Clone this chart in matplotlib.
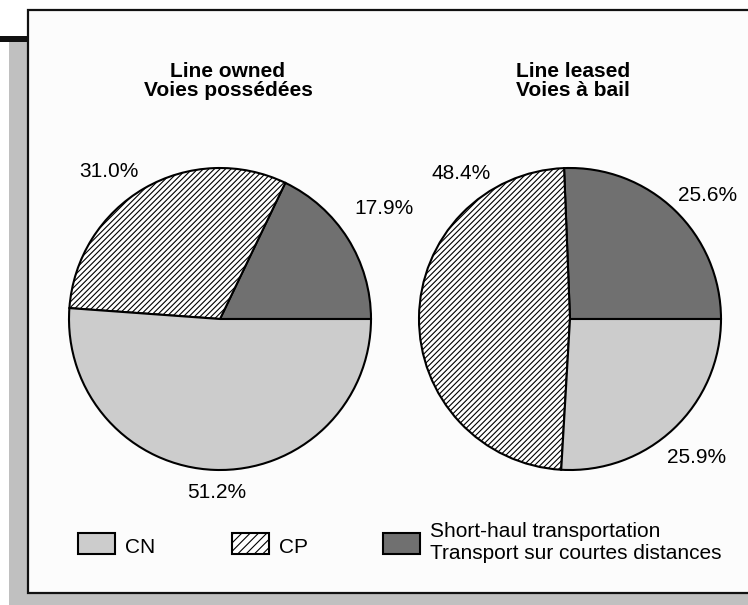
import matplotlib
matplotlib.use("Agg")
import matplotlib.pyplot as plt
from matplotlib.patches import Rectangle

plt.rcParams['font.family'] = ['Liberation Sans', 'DejaVu Sans']
plt.rcParams['hatch.linewidth'] = 0.8

# ---- data ----
categories = ["Short-haul transportation\nTransport sur courtes distances", "CP", "CN"]
owned_values = [17.9, 31.0, 51.2]
leased_values = [25.6, 48.4, 25.9]
titles = [["Line owned", "Voies possédées"], ["Line leased", "Voies à bail"]]
legend_labels = ["CN", "CP", ["Short-haul transportation", "Transport sur courtes distances"]]

# ---- styles ----
face_colors = ["#707070", "white", "#CCCCCC"]
hatches = [None, "//////", None]

W, H = 748, 605
fig = plt.figure(figsize=(W / 100, H / 100), dpi=100)
fig.patch.set_facecolor("white")

bg = fig.add_axes([0, 0, 1, 1])
bg.set_xlim(0, W)
bg.set_ylim(H, 0)
bg.axis("off")

# shadow and frame
bg.add_patch(Rectangle((9, 41), 19, 564, facecolor="#C0C0C0", edgecolor="none"))
bg.add_patch(Rectangle((9, 594), W, 11, facecolor="#C0C0C0", edgecolor="none"))
bg.add_patch(Rectangle((0, 36), 28, 5.5, facecolor="#111111", edgecolor="none"))
bg.add_patch(Rectangle((28, 10), W, 583, facecolor="#FCFCFC", edgecolor="#111111", linewidth=1.6))

R = 151
centers = [(220, 319), (570, 319)]
label_offsets = [
    [(1.083, 0.731), (-0.737, 0.977), (-0.02, -1.146)],
    [(0.910, 0.817), (-0.724, 0.963), (0.837, -0.920)],
]
title_x = [228, 573]

for k, values in enumerate([owned_values, leased_values]):
    cx, cy = centers[k]
    ax = fig.add_axes([(cx - R) / W, (H - cy - R) / H, 2 * R / W, 2 * R / H])
    wedges, _ = ax.pie(values, startangle=0, counterclock=True, colors=face_colors,
                       wedgeprops=dict(edgecolor="black", linewidth=1.5))
    for w, h in zip(wedges, hatches):
        if h:
            w.set_hatch(h)
    ax.set_xlim(-1.0, 1.0)
    ax.set_ylim(-1.0, 1.0)
    ax.set_aspect("auto")
    ax.patch.set_alpha(0)
    for v, (ox, oy) in zip(values, label_offsets[k]):
        ax.text(ox, oy, f"{v:.1f}%", ha="center", va="center", fontsize=15, clip_on=False)
    bg.text(title_x[k], 77, titles[k][0], ha="center", va="baseline", fontsize=15, fontweight="bold")
    bg.text(title_x[k], 95.5, titles[k][1], ha="center", va="baseline", fontsize=15, fontweight="bold")

# legend
box_x = [78, 232, 383]
text_x = [125, 279, 430]
legend_face = [face_colors[2], face_colors[1], face_colors[0]]
legend_hatch = [None, "////", None]
for i in range(3):
    bg.add_patch(Rectangle((box_x[i], 532.5), 37, 21.5, facecolor=legend_face[i],
                           edgecolor="black", linewidth=1.5, hatch=legend_hatch[i]))
bg.text(text_x[0], 553, legend_labels[0], ha="left", va="baseline", fontsize=15)
bg.text(text_x[1], 553, legend_labels[1], ha="left", va="baseline", fontsize=15)
bg.text(text_x[2], 537, legend_labels[2][0], ha="left", va="baseline", fontsize=15)
bg.text(text_x[2], 559, legend_labels[2][1], ha="left", va="baseline", fontsize=15)

fig.savefig("out.png", dpi=100, facecolor="white")
